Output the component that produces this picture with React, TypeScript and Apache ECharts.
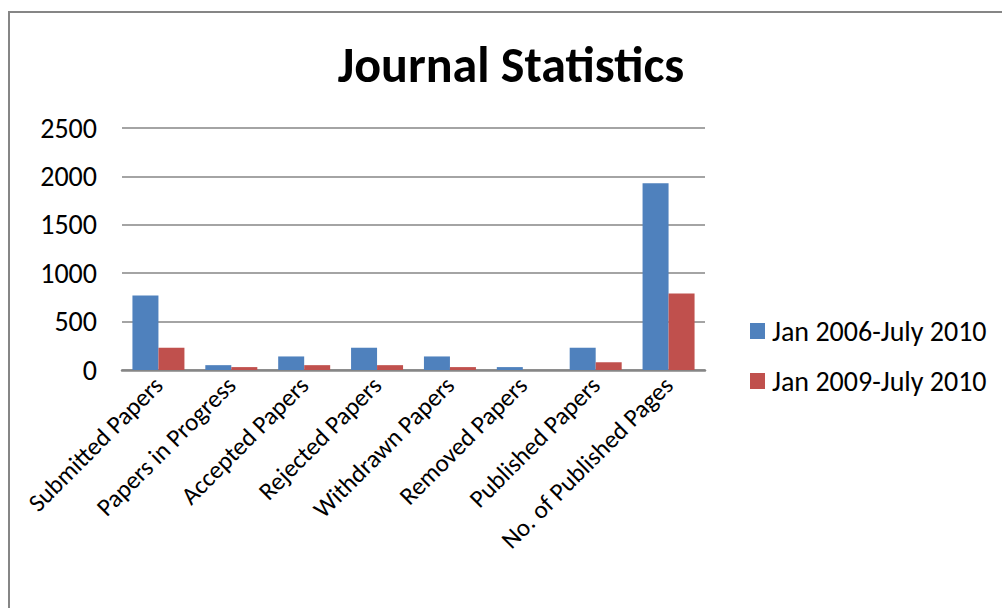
import React, { useEffect, useRef } from "react";
import * as echarts from "echarts";

const categories = [
  "Submitted Papers",
  "Papers in Progress",
  "Accepted Papers",
  "Rejected Papers",
  "Withdrawn Papers",
  "Removed Papers",
  "Published Papers",
  "No. of Published Pages",
];
const series2006 = [770, 50, 140, 230, 140, 30, 230, 1930];
const series2009 = [230, 30, 50, 50, 30, 0, 80, 790];
const yTicks = [0, 500, 1000, 1500, 2000, 2500];

const FONT = "Carlito, Lato, 'Open Sans', sans-serif";

export default function App() {
  const ref = useRef<HTMLDivElement>(null);
  useEffect(() => {
    if (!ref.current) return;
    const chart = echarts.init(ref.current, undefined, { renderer: "svg" });
    chart.setOption({
      animation: false,
      backgroundColor: "#ffffff",
      textStyle: { fontFamily: FONT },
      title: {
        text: "Journal Statistics",
        left: 506,
        textAlign: "center",
        top: 34,
        textStyle: { fontFamily: FONT, fontWeight: "bold", fontSize: 50, color: "#000" },
      },
      graphic: [
        {
          type: "rect",
          shape: { x: 9, y: 12, width: 1100, height: 700 },
          style: { fill: "none", stroke: "#868686", lineWidth: 2 },
          silent: true,
        },
      ],
      legend: {
        orient: "vertical",
        left: 745,
        top: 312,
        itemWidth: 15,
        itemHeight: 16,
        itemGap: 22,
        icon: "rect",
        textStyle: { fontFamily: FONT, fontSize: 28, color: "#000", padding: [0, 0, 0, 2] },
        data: ["Jan 2006-July 2010", "Jan 2009-July 2010"],
      },
      grid: { left: 122, right: 297, top: 128, bottom: 238, containLabel: false },
      xAxis: {
        type: "category",
        data: categories,
        axisTick: { show: false },
        axisLine: { lineStyle: { color: "#868686", width: 2.5 } },
        axisLabel: {
          rotate: 45,
          interval: 0,
          margin: 11,
          fontFamily: FONT,
          fontSize: 25,
          color: "#000",
        },
      },
      yAxis: {
        type: "value",
        min: 0,
        max: 2500,
        interval: 500,
        axisLine: { show: false },
        axisTick: { show: false },
        splitLine: { lineStyle: { color: "#868686", width: 1.5 } },
        axisLabel: {
          margin: 25,
          fontFamily: FONT,
          fontSize: 28,
          color: "#000",
          formatter: (v: number) => (yTicks.includes(v) ? String(v) : ""),
        },
      },
      series: [
        {
          name: "Jan 2006-July 2010",
          type: "bar",
          data: series2006,
          barWidth: 26,
          barGap: "0%",
          itemStyle: { color: "#4f81bd" },
        },
        {
          name: "Jan 2009-July 2010",
          type: "bar",
          data: series2009,
          barWidth: 26,
          barGap: "0%",
          itemStyle: { color: "#c0504d" },
        },
      ],
    });
    return () => chart.dispose();
  }, []);
  return (
    <div
      ref={ref}
      style={{ position: "absolute", left: 0, top: 0, width: 1002, height: 608 }}
    />
  );
}
